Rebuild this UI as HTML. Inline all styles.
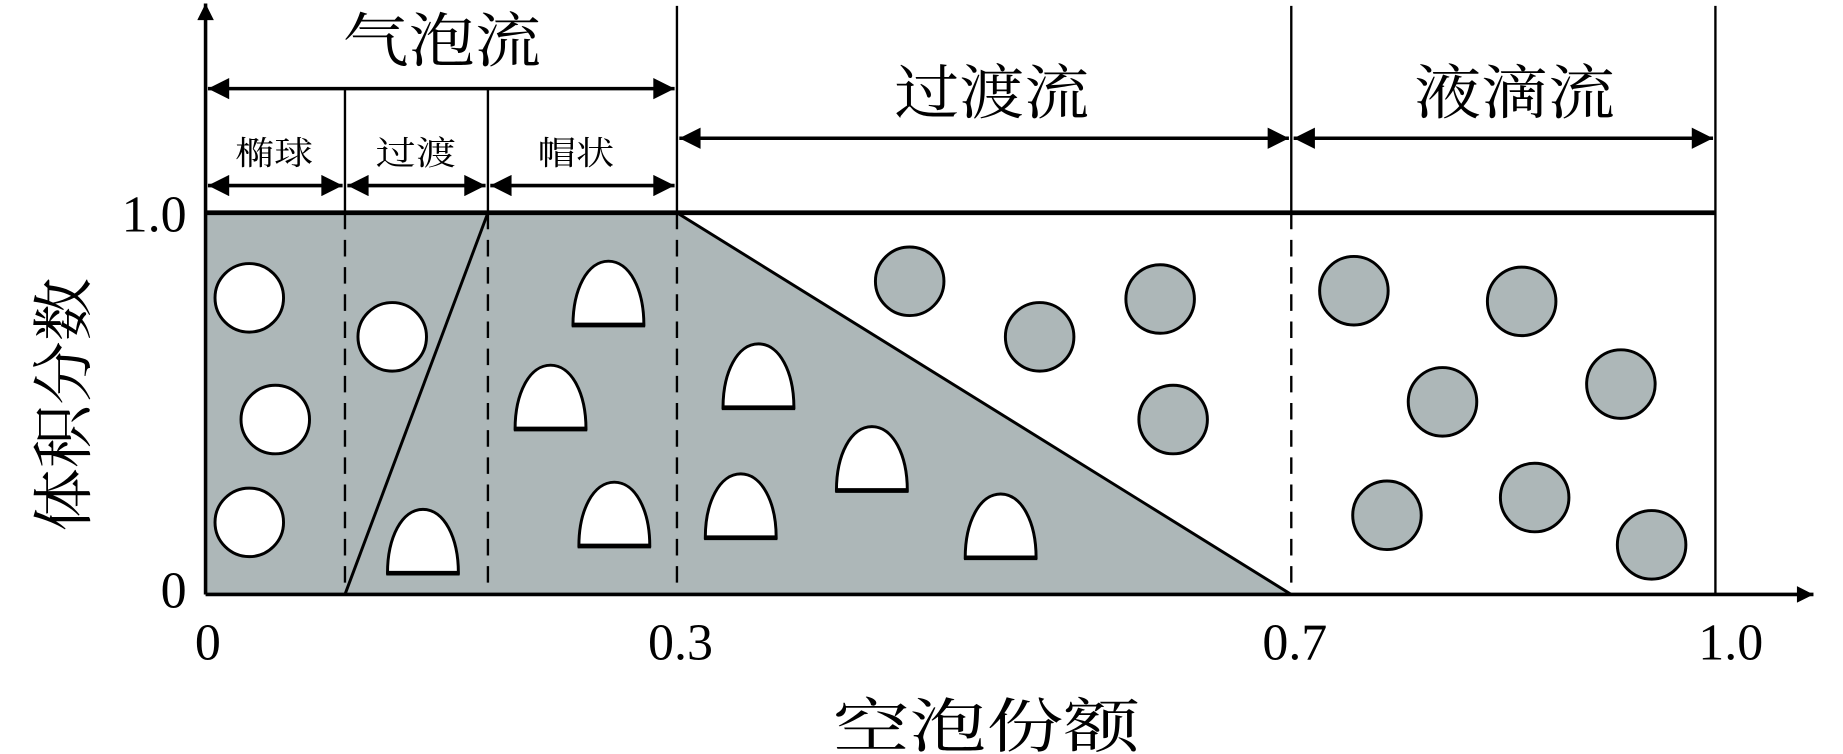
<!DOCTYPE html>
<html><head><meta charset="utf-8"><style>
html,body{margin:0;padding:0;background:#fff;}
svg{display:block;}
text{font-family:"Liberation Serif","Noto Serif CJK SC",serif;fill:#000;}
</style></head><body>
<svg width="1843" height="754" viewBox="0 0 1560 638" preserveAspectRatio="none" xmlns="http://www.w3.org/2000/svg">
<defs>
<marker id="ah" viewBox="0 0 10 10" refX="10" refY="5" markerWidth="28" markerHeight="18" markerUnits="userSpaceOnUse" orient="auto-start-reverse">
<path d="M0,0 L10,5 L0,10 Z" fill="#000"/></marker>
<marker id="axy" viewBox="0 0 10 10" refX="10" refY="5" markerWidth="30" markerHeight="14" markerUnits="userSpaceOnUse" orient="auto">
<path d="M0,0 L10,5 L0,10 Z" fill="#000"/></marker>
</defs>
<polygon points="174,180 573,180 1093,503 174,503" fill="#adb7b8"/>
<line x1="573" y1="180" x2="1093" y2="503" stroke="#000" stroke-width="2.5"/>
<line x1="292" y1="503" x2="413" y2="180" stroke="#000" stroke-width="2.5"/>
<g stroke="#000" stroke-width="2">
<line x1="292" y1="75" x2="292" y2="180"/>
<line x1="413" y1="75" x2="413" y2="180"/>
<line x1="573" y1="5" x2="573" y2="180"/>
<line x1="1093" y1="5" x2="1093" y2="180"/>
<line x1="1452" y1="5" x2="1452" y2="503"/>
</g>
<g stroke="#000" stroke-width="2" stroke-dasharray="14,9">
<line x1="292" y1="180" x2="292" y2="503"/>
<line x1="413" y1="180" x2="413" y2="503"/>
<line x1="573" y1="180" x2="573" y2="503"/>
<line x1="1093" y1="180" x2="1093" y2="503"/>
</g>
<line x1="174" y1="180" x2="1452" y2="180" stroke="#000" stroke-width="4"/>
<line x1="174" y1="503" x2="1535" y2="503" stroke="#000" stroke-width="3" marker-end="url(#axy)"/>
<line x1="174" y1="503" x2="174" y2="3" stroke="#000" stroke-width="3" marker-end="url(#axy)"/>
<g stroke="#000" stroke-width="3" marker-start="url(#ah)" marker-end="url(#ah)">
<line x1="176" y1="75" x2="571" y2="75"/>
<line x1="176" y1="157" x2="290" y2="157"/>
<line x1="294" y1="157" x2="411" y2="157"/>
<line x1="415" y1="157" x2="571" y2="157"/>
<line x1="575" y1="117" x2="1091" y2="117"/>
<line x1="1095" y1="117" x2="1450" y2="117"/>
</g>
<g font-size="50" lengthAdjust="spacingAndGlyphs">
<text x="290" y="52" textLength="168" lengthAdjust="spacingAndGlyphs">气泡流</text>
<text x="757" y="96" textLength="165" lengthAdjust="spacingAndGlyphs">过渡流</text>
<text x="1197" y="96" textLength="170" lengthAdjust="spacingAndGlyphs">液滴流</text>
<text x="705" y="632" textLength="260" lengthAdjust="spacingAndGlyphs">空泡份额</text>
</g>
<g font-size="28">
<text x="199" y="139" textLength="66" lengthAdjust="spacingAndGlyphs">椭球</text>
<text x="318" y="139" textLength="68" lengthAdjust="spacingAndGlyphs">过渡</text>
<text x="455" y="139" textLength="65" lengthAdjust="spacingAndGlyphs">帽状</text>
</g>
<g font-size="44">
<text x="158" y="196" text-anchor="end">1.0</text>
<text x="158" y="514" text-anchor="end">0</text>
<text x="176" y="558" text-anchor="middle">0</text>
<text x="576" y="558" text-anchor="middle">0.3</text>
<text x="1096" y="558" text-anchor="middle">0.7</text>
<text x="1465" y="558" text-anchor="middle">1.0</text>
</g>
<text x="-450" y="72" font-size="52" textLength="215" lengthAdjust="spacingAndGlyphs" transform="rotate(-90)">体积分数</text>
<g fill="#fff" stroke="#000" stroke-width="2.5">
<circle cx="211" cy="252" r="29"/>
<circle cx="233" cy="355" r="29"/>
<circle cx="211" cy="442" r="29"/>
<circle cx="332" cy="285" r="29"/>
</g>
<g fill="#adb7b8" stroke="#000" stroke-width="2.5">
<circle cx="770" cy="238" r="29"/>
<circle cx="880" cy="285" r="29"/>
<circle cx="982" cy="253" r="29"/>
<circle cx="993" cy="355" r="29"/>
<circle cx="1146" cy="246" r="29"/>
<circle cx="1288" cy="255" r="29"/>
<circle cx="1221" cy="340" r="29"/>
<circle cx="1372" cy="325" r="29"/>
<circle cx="1174" cy="436" r="29"/>
<circle cx="1299" cy="421" r="29"/>
<circle cx="1398" cy="461" r="29"/>
</g>
<g fill="#fff" stroke="#000" stroke-width="2.5">
<path d="M485,275 C485,245 497,221 515,221 C533,221 545,245 545,275 Z"/>
<path d="M436,363 C436,333 448,309 466,309 C484,309 496,333 496,363 Z"/>
<path d="M490,462 C490,432 502,408 520,408 C538,408 550,432 550,462 Z"/>
<path d="M328,485 C328,455 340,431 358,431 C376,431 388,455 388,485 Z"/>
<path d="M612,345 C612,315 624,291 642,291 C660,291 672,315 672,345 Z"/>
<path d="M597,455 C597,425 609,401 627,401 C645,401 657,425 657,455 Z"/>
<path d="M708,415 C708,385 720,361 738,361 C756,361 768,385 768,415 Z"/>
<path d="M817,472 C817,442 829,418 847,418 C865,418 877,442 877,472 Z"/>
</g>
<g stroke="#000" stroke-width="4">
<line x1="484" y1="275" x2="546" y2="275"/>
<line x1="435" y1="363" x2="497" y2="363"/>
<line x1="489" y1="462" x2="551" y2="462"/>
<line x1="327" y1="485" x2="389" y2="485"/>
<line x1="611" y1="345" x2="673" y2="345"/>
<line x1="596" y1="455" x2="658" y2="455"/>
<line x1="707" y1="415" x2="769" y2="415"/>
<line x1="816" y1="472" x2="878" y2="472"/>
</g>
</svg>
</body></html>
